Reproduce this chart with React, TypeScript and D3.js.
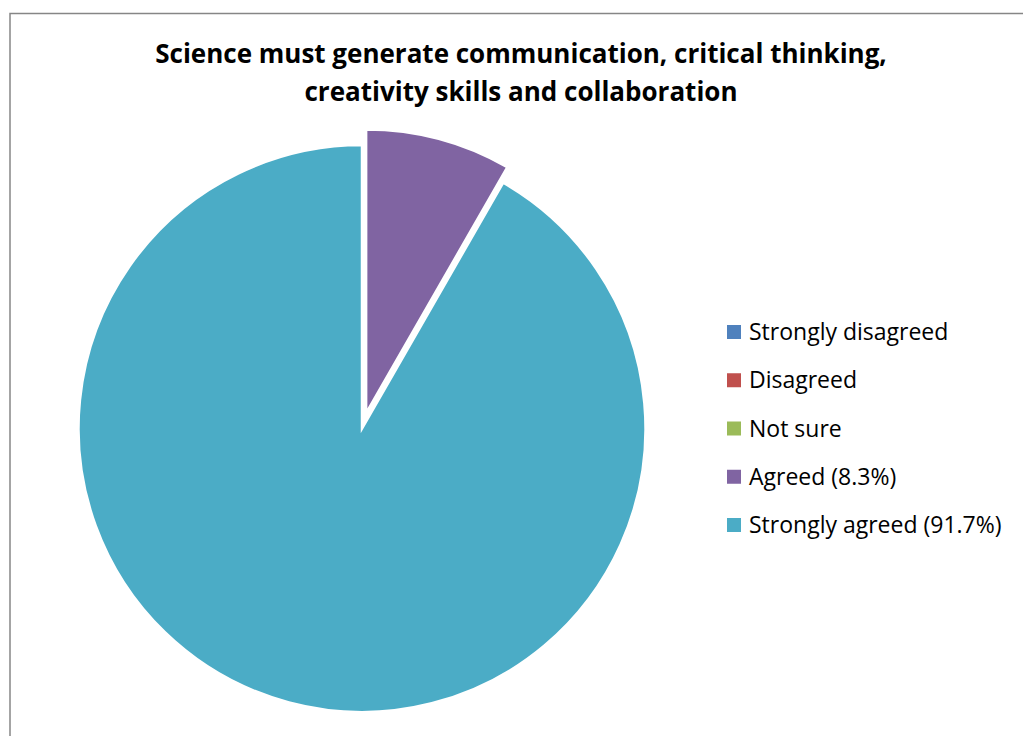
import React from "react";
import * as d3 from "d3";

const categories = ["Strongly disagreed", "Disagreed", "Not sure", "Agreed", "Strongly agreed"];
const values = [0, 0, 0, 8.3, 91.7];
const legendLabels = ["Strongly disagreed", "Disagreed", "Not sure", "Agreed (8.3%)", "Strongly agreed (91.7%)"];
const colors = ["#4F81BD", "#C0504D", "#9BBB59", "#8064A2", "#4BACC6"];
const exploded = ["Agreed"];
const titleLines = ["Science must generate communication, critical thinking,", "creativity skills and collaboration"];

const W = 1023;
const H = 736;
const FONT = "'Open Sans', sans-serif";

export default function App() {
  const cx = 362;
  const cy = 428.5;
  const r = 283.5;
  const explodeDist = 16;

  const pie = d3
    .pie<number>()
    .sort(null)
    .value((d) => d)
    .startAngle(0)
    .endAngle(2 * Math.PI);
  const arcs = pie(values);
  const arc = d3.arc<d3.PieArcDatum<number>>().innerRadius(0).outerRadius(r);

  const legendY = d3.scalePoint<string>().domain(categories).range([332, 525]);

  return (
    <svg
      width={W}
      height={H}
      style={{ position: "absolute", left: 0, top: 0, background: "#fff" }}
    >
      <rect x={0} y={0} width={W} height={H} fill="#fff" />
      <rect x={10} y={13.5} width={W + 20} height={H + 20} fill="#fff" stroke="#868686" strokeWidth={1.5} />
      <g fontFamily={FONT} fontWeight="bold" fontSize={26} fill="#000" textAnchor="middle">
        {titleLines.map((t, i) => (
          <text key={i} x={521} y={62.5 + i * 38.5}>
            {t}
          </text>
        ))}
      </g>
      <g transform={`translate(${cx},${cy})`}>
        {arcs.map((a, i) => {
          if (a.endAngle - a.startAngle <= 0) return null;
          const mid = (a.startAngle + a.endAngle) / 2;
          const off = exploded.includes(categories[i]) ? explodeDist : 0;
          const dx = Math.sin(mid) * off;
          const dy = -Math.cos(mid) * off;
          return (
            <path
              key={categories[i]}
              d={arc(a) || ""}
              transform={`translate(${dx},${dy})`}
              fill={colors[i]}
              stroke="#fff"
              strokeWidth={2.5}
              strokeLinejoin="miter"
            />
          );
        })}
      </g>
      <g fontFamily={FONT} fontSize={23} fill="#000">
        {categories.map((c, i) => {
          const y = legendY(c) as number;
          return (
            <g key={c}>
              <rect x={727} y={y - 7} width={14} height={14} fill={colors[i]} />
              <text x={749} y={y + 8}>
                {legendLabels[i]}
              </text>
            </g>
          );
        })}
      </g>
    </svg>
  );
}
